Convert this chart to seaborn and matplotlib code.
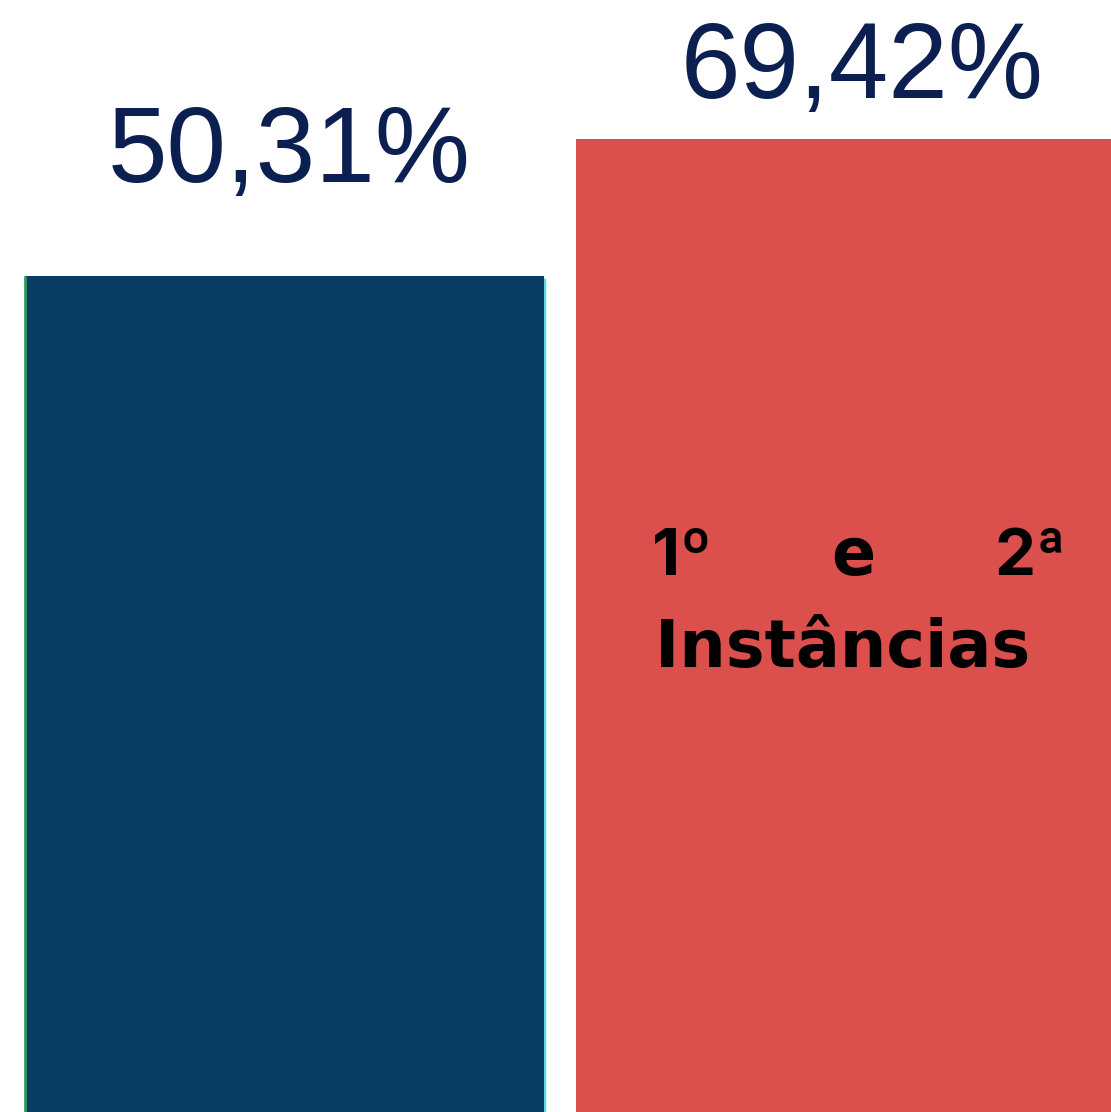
import matplotlib
matplotlib.use("Agg")
import matplotlib.pyplot as plt
import seaborn as sns
import pandas as pd

# Data
categories = ["Grupo A", "1º e 2ª Instâncias"]
values = [50.31, 69.42]
value_labels = ["50,31%", "69,42%"]
bar_colors = ["#093C63", "#DB504C"]

LABEL_COLOR = "#0B1F51"

df = pd.DataFrame({"categoria": categories, "valor": values})

sns.set_style("white")
plt.rcParams["font.family"] = ["Liberation Sans", "DejaVu Sans"]

fig = plt.figure(figsize=(11.11, 11.12), dpi=100)
ax = fig.add_axes([0, 0, 1, 1])
ax.set_yscale("log")

sns.barplot(data=df, x="categoria", y="valor", hue="categoria",
            palette=bar_colors, width=0.942, legend=False, ax=ax,
            linewidth=0, saturation=1)

ax.set_xlim(-0.5163, 1.5)
ax.set_ylim(7.05, 96.25)
ax.axis("off")

# second bar runs off the right edge
bars = ax.patches
bars[1].set_width(1.1)

# thin coloured edges on the first bar
b0 = bars[0]
ax.vlines(b0.get_x(), ax.get_ylim()[0], b0.get_height(), color="#2E9E5E", lw=2)
ax.vlines(b0.get_x() + b0.get_width(), ax.get_ylim()[0], b0.get_height() * 0.995,
          color="#5FD8DC", lw=2.5, zorder=0)

# value labels above the bars
offsets = [(5, 94), (27, 41)]
for bar, lab, off in zip(bars, value_labels, offsets):
    cx = bar.get_x() + 0.942 / 2
    ax.annotate(lab, (cx, bar.get_height()), xytext=off,
                textcoords="offset pixels", ha="center", va="baseline",
                fontsize=77, color=LABEL_COLOR, family="Liberation Sans")

# justified text inside the red bar
W, H = 1111, 1112
txt_kw = dict(transform=ax.transAxes, fontsize=47, fontweight="bold",
              color="black", va="baseline")
ax.text(652 / W, 1 - 575 / H, "1º", ha="left", family="Inter", **txt_kw)
ax.text(853 / W, 1 - 575 / H, "e", ha="center", family="DejaVu Sans", **txt_kw)
ax.text(1067 / W, 1 - 575 / H, "2ª", ha="right", family="Inter", **txt_kw)
ax.text(655 / W, 1 - 667 / H, "Instâncias", ha="left", family="DejaVu Sans", **txt_kw)

fig.savefig("out.png", dpi=100)
